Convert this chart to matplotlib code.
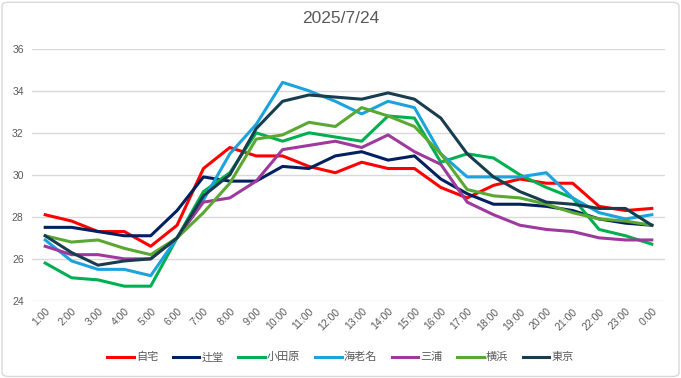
import matplotlib.pyplot as plt
from matplotlib.patches import FancyBboxPatch

plt.rcParams['font.family'] = ['Liberation Sans', 'Noto Sans CJK JP', 'DejaVu Sans']

hours = [f"{h}:00" for h in range(1, 24)] + ["0:00"]

jitaku = [28.1, 27.8, 27.3, 27.3, 26.6, 27.6, 30.3, 31.3, 30.9, 30.9, 30.4, 30.1,
          30.6, 30.3, 30.3, 29.4, 28.9, 29.5, 29.8, 29.6, 29.6, 28.5, 28.3, 28.4]
tsujido = [27.5, 27.5, 27.3, 27.1, 27.1, 28.3, 29.9, 29.7, 29.7, 30.4, 30.3, 30.9,
           31.1, 30.7, 30.9, 29.8, 29.1, 28.6, 28.6, 28.5, 28.3, 27.9, 27.7, 27.6]
odawara = [25.8, 25.1, 25.0, 24.7, 24.7, 27.0, 29.2, 30.1, 32.0, 31.6, 32.0, 31.8,
           31.6, 32.8, 32.7, 30.6, 31.0, 30.8, 30.0, 29.4, 28.9, 27.4, 27.1, 26.7]
ebina = [26.9, 25.9, 25.5, 25.5, 25.2, 27.0, 28.8, 31.0, 32.4, 34.4, 34.0, 33.5,
         32.9, 33.5, 33.2, 31.0, 29.9, 29.9, 29.9, 30.1, 28.9, 28.2, 27.9, 28.1]
miura = [26.6, 26.2, 26.2, 26.0, 26.0, 27.0, 28.7, 28.9, 29.7, 31.2, 31.4, 31.6,
         31.3, 31.9, 31.1, 30.5, 28.7, 28.1, 27.6, 27.4, 27.3, 27.0, 26.9, 26.9]
yokohama = [27.1, 26.8, 26.9, 26.5, 26.2, 27.0, 28.2, 29.6, 31.7, 31.9, 32.5, 32.3,
            33.2, 32.8, 32.3, 31.0, 29.3, 29.0, 28.9, 28.6, 28.2, 27.9, 27.8, 27.6]
tokyo = [27.1, 26.3, 25.7, 25.9, 26.0, 27.0, 29.0, 30.0, 32.2, 33.5, 33.8, 33.7,
         33.6, 33.9, 33.6, 32.7, 31.0, 29.9, 29.2, 28.7, 28.6, 28.4, 28.4, 27.6]

series = [
    ("自宅", jitaku, "#FF0000"),
    ("辻堂", tsujido, "#002060"),
    ("小田原", odawara, "#00B050"),
    ("海老名", ebina, "#1CA3DC"),
    ("三浦", miura, "#9E3A9E"),
    ("横浜", yokohama, "#5AA832"),
    ("東京", tokyo, "#173D4F"),
]

fig = plt.figure(figsize=(6.81, 3.78), dpi=100)
fig.patches.append(FancyBboxPatch((0.003, 0.004), 0.994, 0.99, boxstyle="round,pad=0,rounding_size=0.01",
                                  transform=fig.transFigure, facecolor="white",
                                  edgecolor="#D9D9D9", linewidth=1, zorder=-10))
ax = fig.add_axes([0.047, 0.204, 0.9295, 0.667])
ax.set_facecolor("none")

x = range(len(hours))
for name, vals, col in series:
    ax.plot(x, vals, color=col, linewidth=2.2, label=name, solid_joinstyle="round")

ax.set_xlim(-0.5, len(hours) - 0.5)
ax.set_ylim(24, 36)
ax.set_yticks(range(24, 37, 2))
ax.set_xticks(list(x))
ax.set_xticklabels(hours, rotation=45, ha="right", rotation_mode="anchor")
ax.grid(axis="y", color="#D9D9D9", linewidth=1)
ax.set_axisbelow(True)
for s in ax.spines.values():
    s.set_visible(False)
ax.tick_params(length=0, colors="#595959", labelsize=7.5, pad=6)
ax.tick_params(axis="x", pad=4)

fig.suptitle("2025/7/24", y=0.97, fontsize=12.5, color="#595959")
fig.legend(loc="center", bbox_to_anchor=(0.5, 0.055), ncol=7, frameon=False,
           fontsize=8, handlelength=2.4, columnspacing=1.3, handletextpad=0.2,
           labelcolor="#595959")

fig.savefig("out.png", dpi=100)
